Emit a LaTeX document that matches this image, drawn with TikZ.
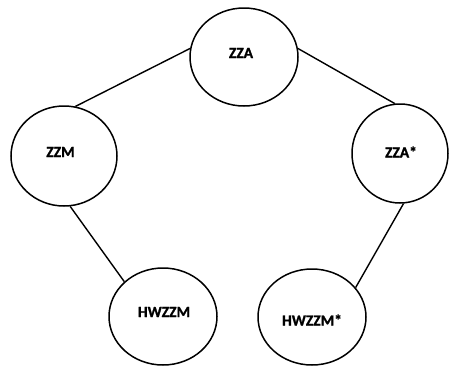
\documentclass[tikz,border=0pt]{standalone}
\usepackage{fontspec}
\setmainfont[BoldFeatures={FakeBold=1.2}]{Carlito}
\usetikzlibrary{shapes.geometric}

\tikzset{
  bubble/.style={ellipse, draw=black, line width=1.5pt, inner sep=0pt,
                 minimum width=#1},
  caption/.style={inner sep=0pt, font=\fontsize{15.5}{17}\selectfont\bfseries},
  link/.style={draw=black, line width=1.4pt},
}

\begin{document}
\begin{tikzpicture}[x=1pt, y=-1pt]
  \useasboundingbox (0,0) rectangle (449,367);

  % ellipses
  \node[bubble=108pt, minimum height=98pt] (zza)    at (244,57)    {};
  \node[bubble=106pt, minimum height=100pt] (zzm)   at (64,156)    {};
  \node[bubble=96pt,  minimum height=99pt] (zzas)   at (400,153.5) {};
  \node[bubble=108pt, minimum height=97pt] (hw)     at (163,316.5) {};
  \node[bubble=108pt, minimum height=96pt] (hws)    at (312,317)   {};

  % labels
  \node[caption] (tzza)  at (241,53)  {ZZA};
  \node[caption] (tzzm)  at (60.5,152) {ZZM};
  \node[caption] (tzzas) at (401,152) {ZZA*};
  \node[caption] (thw)   at (164,312) {HWZZM};
  \node[caption] (thws)  at (312,320) {HWZZM*};

  % connectors
  \draw[link] (zza.171.6) -- (zzm.77.6);
  \draw[link] (zza.9.6)   -- (zzas.96);
  \draw[link] (zzm.-83)   -- (hw.138.6);
  \draw[link] (zzas.-86.6) -- (hws.34.8);
\end{tikzpicture}
\end{document}
